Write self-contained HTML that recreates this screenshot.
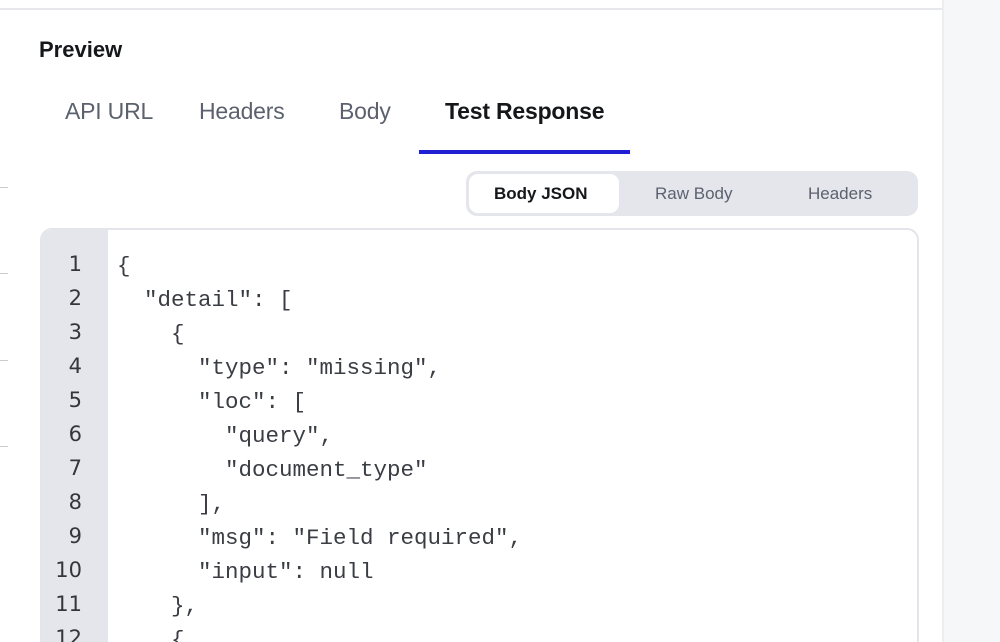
<!DOCTYPE html>
<html style="overflow:hidden;height:642px"><head><style>
body{margin:0;width:1000px;height:642px;overflow:hidden;background:#fff;font-family:"Liberation Sans",sans-serif;position:relative}
.a{position:absolute}
.tab{position:absolute;top:98px;font-size:23px;color:#5b616e;letter-spacing:-0.2px}
.seg{position:absolute;top:184px;font-size:17px;color:#5b616e}
.code{position:absolute;left:40px;top:228px;width:875px;height:420px;border:2px solid #e3e5ea;border-radius:12px;overflow:hidden;background:#fff}
.gut{position:absolute;left:0;top:0;width:66px;height:100%;background:#e4e6ec}
.ln{position:absolute;left:0;width:40px;text-align:right;font-family:"DejaVu Sans",sans-serif;font-size:21px;color:#33363c}
pre{position:absolute;left:75px;top:19px;margin:0;font-family:"Liberation Mono",monospace;font-size:22.5px;line-height:34px;color:#3a3d43}
</style></head><body>
<div class="a" style="left:0;top:8px;width:943px;height:2px;background:#e6e8ec"></div>
<div class="a" style="left:942px;top:0;width:2px;height:642px;background:#eceef1"></div>
<div class="a" style="left:944px;top:0;width:56px;height:642px;background:#f6f7f9"></div>
<div class="a" style="left:0;top:187px;width:8px;height:1px;background:#ccc"></div>
<div class="a" style="left:0;top:273px;width:8px;height:1px;background:#ccc"></div>
<div class="a" style="left:0;top:360px;width:8px;height:1px;background:#ccc"></div>
<div class="a" style="left:0;top:446px;width:8px;height:1px;background:#ccc"></div>
<div class="a" style="left:39px;top:37px;font-size:22px;font-weight:bold;color:#15171a">Preview</div>
<div class="tab" style="left:65px">API URL</div>
<div class="tab" style="left:199px">Headers</div>
<div class="tab" style="left:339px">Body</div>
<div class="tab" style="left:445px;color:#15171a;font-weight:bold">Test Response</div>
<div class="a" style="left:419px;top:150px;width:211px;height:4px;background:#1f1fd4"></div>
<div class="a" style="left:466px;top:171px;width:452px;height:45px;background:#e4e6ec;border-radius:11px"></div>
<div class="a" style="left:469px;top:174px;width:150px;height:39px;background:#fff;border-radius:9px"></div>
<div class="seg" style="left:494px;color:#15171a;font-weight:bold">Body JSON</div>
<div class="seg" style="left:655px">Raw Body</div>
<div class="seg" style="left:808px">Headers</div>
<div class="code"><div class="gut"></div>
<div class="ln" style="top:22px">1</div><div class="ln" style="top:56px">2</div><div class="ln" style="top:90px">3</div><div class="ln" style="top:124px">4</div><div class="ln" style="top:158px">5</div><div class="ln" style="top:192px">6</div><div class="ln" style="top:226px">7</div><div class="ln" style="top:260px">8</div><div class="ln" style="top:294px">9</div><div class="ln" style="top:328px">10</div><div class="ln" style="top:362px">11</div><div class="ln" style="top:396px">12</div>
<pre>{
  "detail": [
    {
      "type": "missing",
      "loc": [
        "query",
        "document_type"
      ],
      "msg": "Field required",
      "input": null
    },
    {</pre></div>
</body></html>
